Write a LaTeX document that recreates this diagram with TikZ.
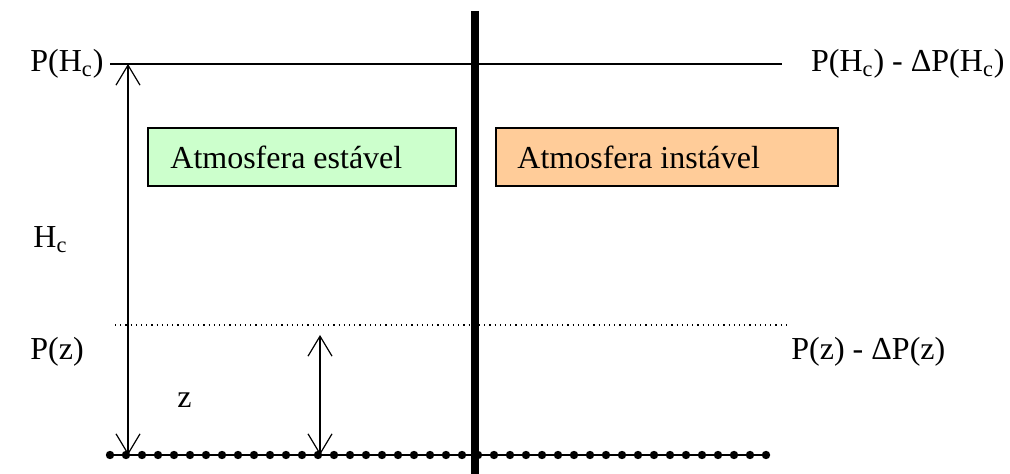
\documentclass[tikz,border=0pt]{standalone}
\usepackage{fontspec}
\setmainfont{Liberation Serif}
\usetikzlibrary{arrows.meta}
\definecolor{stablegreen}{RGB}{204,255,204}
\definecolor{unstableorange}{RGB}{255,204,153}
\tikzstyle{label}=[inner sep=0pt, font=\fontsize{16}{19}\selectfont]
\tikzstyle{regionbox}=[draw, line width=0.6pt, minimum height=29pt, inner sep=0pt]
\tikzstyle{groundpt}=[fill, shape=circle, minimum size=4.2pt, inner sep=0pt]
\tikzstyle{height}=[line width=0.6pt, {Straight Barb[length=10pt, width=12pt]}-{Straight Barb[length=10pt, width=12pt]}]

\begin{document}
\begin{tikzpicture}[x=0.5pt, y=-0.5pt]
    \useasboundingbox (0, 0) rectangle (1010, 474);

    % levels
    \coordinate (topl) at (110, 64);
    \coordinate (topr) at (782, 64);
    \coordinate (midl) at (115, 325);
    \coordinate (midr) at (786, 325);
    \coordinate (gndl) at (110, 455);
    \coordinate (gndr) at (767, 455);
    \coordinate (walltop) at (475, 11);
    \coordinate (wallbot) at (475, 474);

    \draw[line width=0.7pt] (topl) -- (topr);
    \draw[dotted, line width=0.6pt] (midl) -- (midr);
    \draw[line width=1pt] (gndl) -- (gndr);
    \foreach \i in {0,...,41}
        \node[groundpt] at (110 + \i*16, 455) {};

    \draw[line width=3.6pt] (walltop) -- (wallbot);

    \node[regionbox, fill=stablegreen, minimum width=154pt] (stable) at (302, 157) {};
    \node[label, anchor=west] (stabletxt) at (170, 157) {Atmosfera estável};
    \node[regionbox, fill=unstableorange, minimum width=171pt] (unstable) at (667, 157) {};
    \node[label, anchor=west] (unstabletxt) at (517, 157) {Atmosfera instável};

    % heights
    \coordinate (hctop) at (128, 64);
    \coordinate (hcbot) at (128, 455);
    \coordinate (ztop) at (320, 335);
    \coordinate (zbot) at (320, 455);
    \draw[height] (hcbot) -- (hctop);
    \draw[height] (zbot) -- (ztop);

    \node[label, anchor=west] (phc) at (30, 64) {P(H\textsubscript{c})};
    \node[label, anchor=east] (dphc) at (1005, 64) {P(H\textsubscript{c}) - ΔP(H\textsubscript{c})};
    \node[label, anchor=west] (hc) at (33, 240) {H\textsubscript{c}};
    \node[label, anchor=west] (pz) at (30, 352) {P(z)};
    \node[label, anchor=west] (dpz) at (791, 352) {P(z) - ΔP(z)};
    \node[label, anchor=west] (z) at (177, 400) {z};
\end{tikzpicture}
\end{document}
